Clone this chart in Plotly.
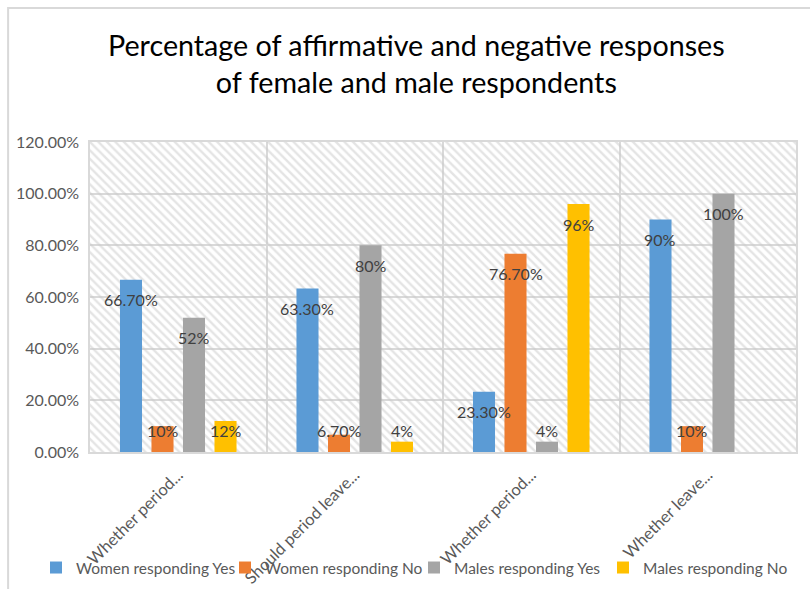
import plotly.graph_objects as go

# Survey questions (x categories) and the four respondent groups
question_labels = ["Whether period...", "Should period leave...", "Whether period...", "Whether leave..."]
series_names = ["Women responding Yes", "Women responding No", "Males responding Yes", "Males responding No"]

# Percent of respondents per question, one list per group
women_yes = [66.7, 63.3, 23.3, 90]
women_no = [10, 6.7, 76.7, 10]
males_yes = [52, 80, 4, 100]
males_no = [12, 4, 96, None]

series_values = [women_yes, women_no, males_yes, males_no]
series_colors = ["#5B9BD5", "#ED7D31", "#A5A5A5", "#FFC000"]

Y_MAX = 1.2
BAR_GAP = 0.286
FONT = "Lato"
TEXT_GREY = "#595959"
GRID_GREY = "#D9D9D9"


def pct_label(v):
    return f"{v:.0f}%" if float(v).is_integer() else f"{v:.2f}%"


fig = go.Figure()

# Diagonal hatching behind the plot area (drawn on the base axes)
fig.add_trace(go.Scatter(
    x=[0, 1, 1, 0, 0], y=[0, 0, Y_MAX, Y_MAX, 0],
    mode="none", fill="toself", fillcolor="rgba(0,0,0,0)",
    fillpattern=dict(shape="\\", fgcolor="#C9C9C9", bgcolor="rgba(0,0,0,0)",
                     size=6, solidity=0.4),
    hoverinfo="skip", showlegend=False, xaxis="x", yaxis="y",
))

positions = list(range(len(question_labels)))
for name, vals, color in zip(series_names, series_values, series_colors):
    fig.add_trace(go.Bar(
        name=name, x=positions,
        y=[None if v is None else v / 100 for v in vals],
        marker=dict(color=color, line=dict(width=0)),
        xaxis="x2", yaxis="y",
    ))

# Value labels sitting just inside the top of each bar
slot = (1 - BAR_GAP) / len(series_names)
label_floor = 0.1625
annotations = []
for k, vals in enumerate(series_values):
    for ci, v in enumerate(vals):
        if v is None:
            continue
        annotations.append(dict(
            x=ci + (k - (len(series_names) - 1) / 2) * slot,
            y=max(v / 100, label_floor), yshift=-20,
            xref="x2", yref="y", text=pct_label(v), showarrow=False,
            font=dict(family=FONT, size=16, color="#404040"),
        ))

# Outer chart frame
shapes = [dict(type="rect", xref="paper", yref="paper",
               x0=-0.116, x1=1.2, y0=-1, y1=1.432,
               line=dict(color="#D9D9D9", width=2), fillcolor="rgba(0,0,0,0)",
               layer="below")]

fig.update_layout(
    width=810, height=589,
    margin=dict(l=90, r=14, t=142, b=137, autoexpand=False),
    paper_bgcolor="white", plot_bgcolor="white",
    barmode="group", bargap=BAR_GAP, bargroupgap=0.3,
    title=dict(
        text="Percentage of affirmative and negative responses<br>of female and male respondents",
        x=0.514, xanchor="center", y=0.905, yanchor="middle", yref="container",
        font=dict(family=FONT, size=28.7, color="#000000"),
    ),
    xaxis=dict(range=[0, 1], visible=False, fixedrange=True, automargin=False),
    xaxis2=dict(
        overlaying="x", side="bottom", range=[-0.5, 3.5], automargin=False,
        tickmode="array", tickvals=positions, ticktext=question_labels,
        tickangle=-45, tickfont=dict(family=FONT, size=16.5, color=TEXT_GREY),
        ticklabelstandoff=5, ticklabelshift=0,
        showgrid=False, zeroline=False, ticks="",
        showline=True, linecolor=GRID_GREY, linewidth=1.5, mirror=True,
        minor=dict(tick0=0.5, dtick=1, showgrid=True, gridcolor=GRID_GREY, gridwidth=1.5, ticks=""),
    ),
    yaxis=dict(
        range=[0, Y_MAX], dtick=0.2, tickformat=".2%", automargin=False,
        tickfont=dict(family=FONT, size=16, color=TEXT_GREY),
        showgrid=True, gridcolor=GRID_GREY, gridwidth=1.5, zeroline=False,
        showline=True, linecolor=GRID_GREY, linewidth=1.5, mirror=True,
        ticks="", ticklabelstandoff=6,
    ),
    legend=dict(
        orientation="h", x=-0.0765, xanchor="left", y=-0.374, yanchor="middle",
        font=dict(family=FONT, size=15.5, color=TEXT_GREY),
        bgcolor="rgba(0,0,0,0)", itemwidth=30, traceorder="normal",
        entrywidth=144, entrywidthmode="pixels",
    ),
    annotations=annotations,
    shapes=shapes,
)

fig.write_html("out.html")
